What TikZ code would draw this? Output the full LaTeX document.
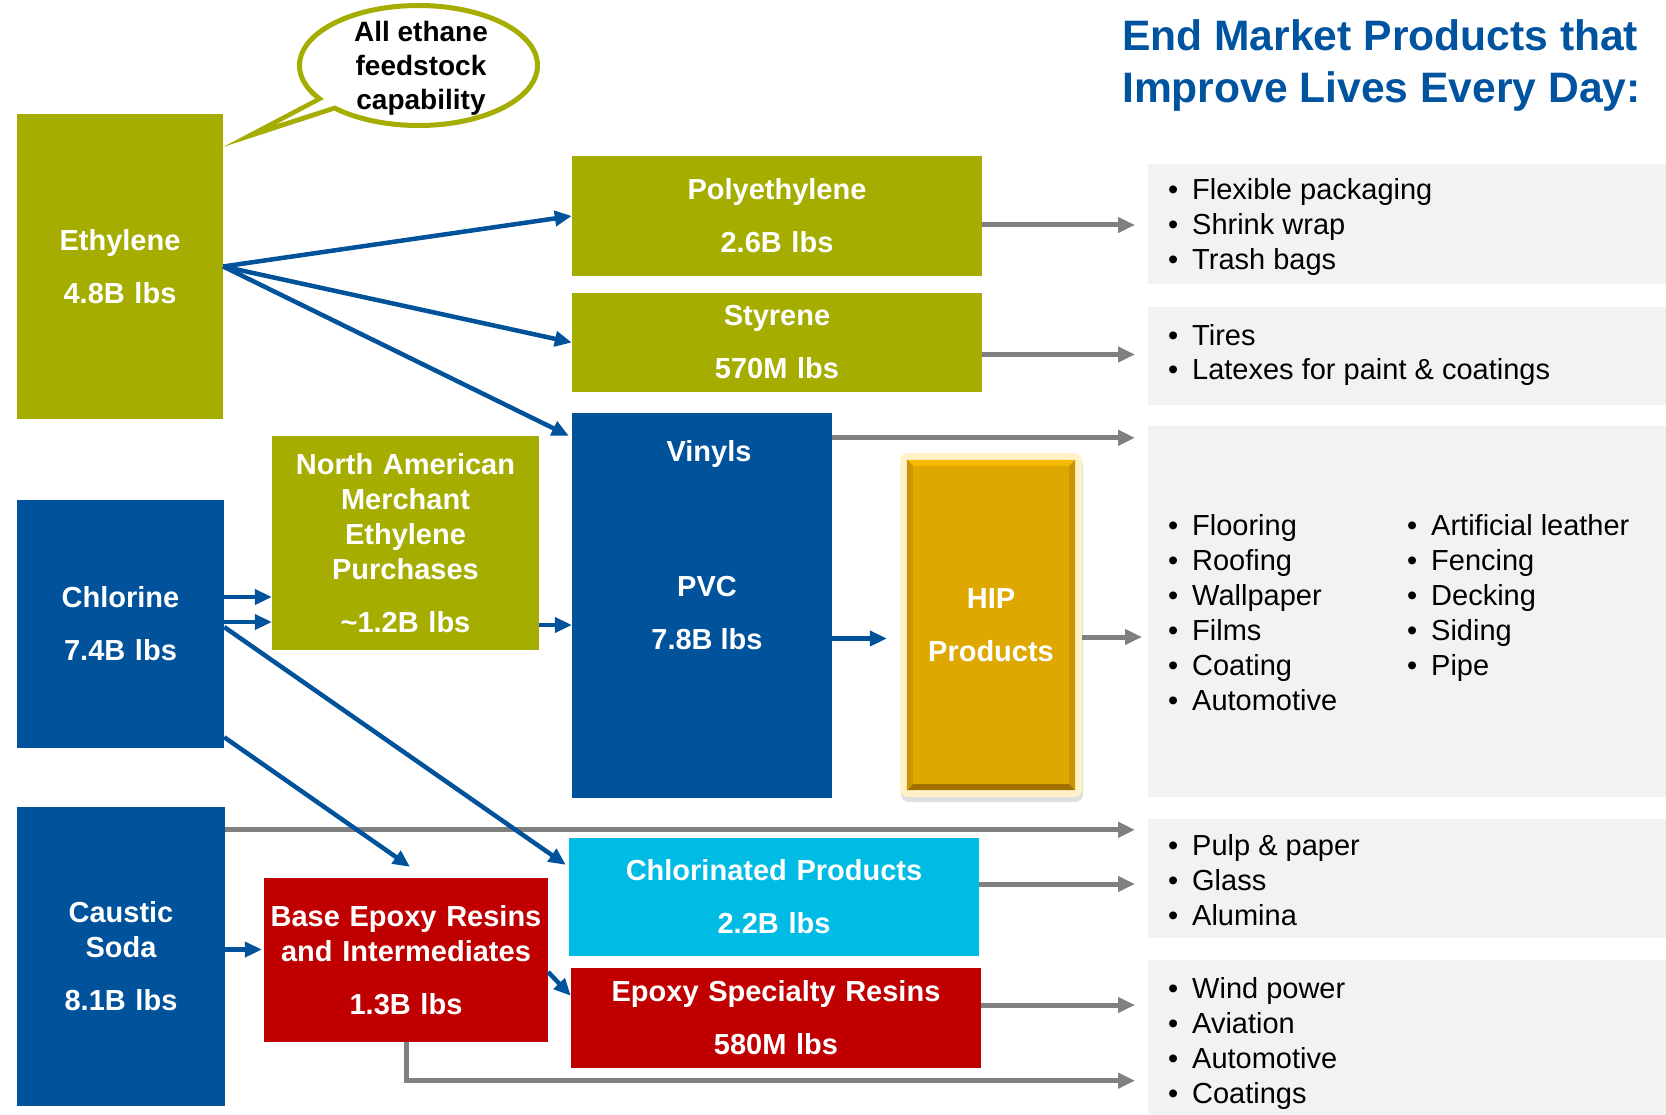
\documentclass[tikz,border=0pt]{standalone}
\usepackage{fontspec}
\setmainfont{Liberation Sans}
\usetikzlibrary{arrows.meta,shadows}

\definecolor{boxgreen}{HTML}{A5AD00}
\definecolor{boxblue}{HTML}{00529B}
\definecolor{boxred}{HTML}{C00000}
\definecolor{boxcyan}{HTML}{00BCE4}
\definecolor{boxgold}{HTML}{DFA800}
\definecolor{hiplight}{HTML}{F6BA00}
\definecolor{hipside}{HTML}{C99500}
\definecolor{hipdark}{HTML}{9F7000}
\definecolor{glow}{HTML}{FFF1C8}
\definecolor{arrowgray}{HTML}{808080}
\definecolor{panelgray}{HTML}{F2F2F2}
\definecolor{titleblue}{HTML}{00539F}

\tikzstyle{box}=[inner sep=0pt, align=center, text=white, font=\bfseries\fontsize{29}{35}\selectfont]
\tikzstyle{panel}=[fill=panelgray, inner sep=0pt, anchor=north west]
\tikzstyle{item}=[anchor=base west, inner sep=0pt, font=\fontsize{29}{35}\selectfont]
\tikzstyle{title}=[anchor=base west, inner sep=0pt, text=titleblue, font=\bfseries\fontsize{42.6}{50}\selectfont]
\tikzstyle{bluearr}=[draw=boxblue, line width=4.5pt, -{Triangle[length=17pt,width=15pt]}]
\tikzstyle{grayarr}=[draw=arrowgray, line width=5pt, -{Triangle[length=17pt,width=15pt]}, shorten >=13pt]

\newcommand{\bul}{\llap{\textbullet\hspace{14pt}}}

\begin{document}
\begin{tikzpicture}[x=1pt, y=-1pt]
\useasboundingbox (0,0) rectangle (1666,1115);
\fill[white] (0,0) rectangle (1666,1115);

% feedstocks
\node[box, fill=boxgreen, text width=206pt, minimum height=305pt] (eth) at (120,266.5) {Ethylene\\[18pt]4.8B lbs};
\node[box, fill=boxblue, text width=207pt, minimum height=248pt] (chl) at (120.5,624) {Chlorine\\[18pt]7.4B lbs};
\node[box, fill=boxblue, text width=208pt, minimum height=299pt] (soda) at (121,956.5) {Caustic\\Soda\\[18pt]8.1B lbs};
\node[box, fill=boxgreen, text width=267pt, minimum height=214pt] (na) at (405.5,543) {North American\\Merchant\\Ethylene\\Purchases\\[18pt]\textasciitilde1.2B lbs};

% derivatives
\node[box, fill=boxgreen, text width=410pt, minimum height=120pt] (poly) at (777,216) {Polyethylene\\[18pt]2.6B lbs};
\node[box, fill=boxgreen, text width=410pt, minimum height=99pt] (sty) at (777,342.5) {Styrene\\[18pt]570M lbs};
\node[box, fill=boxblue, text width=260pt, minimum height=385pt] (vin) at (702,605.5) {};
\node[box] (vinlbl) at (709,454) {Vinyls};
\node[box] (pvc) at (707,613) {PVC\\[18pt]7.8B lbs};
\node[box, fill=boxcyan, text width=410pt, minimum height=118pt] (chp) at (774,897) {Chlorinated Products\\[18pt]2.2B lbs};
\node[box, fill=boxred, text width=284pt, minimum height=164pt] (base) at (406,960) {Base Epoxy Resins\\and Intermediates\\[18pt]1.3B lbs};
\node[box, fill=boxred, text width=410pt, minimum height=100pt] (eps) at (776,1018) {Epoxy Specialty Resins\\[18pt]580M lbs};

% HIP block with glow and bevel
\node[fill=glow, rounded corners=8pt, minimum width=182pt, minimum height=344pt,
      drop shadow={opacity=0.25, shadow xshift=1pt, shadow yshift=-5pt}] (hipglow) at (991,625) {};
\node[box, fill=boxgold, text width=168pt, minimum height=330pt] (hip) at (991,625) {HIP\\[18pt]Products};
\fill[hiplight] (hip.north west) -- (hip.north east) -- ([shift={(-6pt,-6pt)}]hip.north east) -- ([shift={(6pt,-6pt)}]hip.north west) -- cycle;
\fill[hipdark] (hip.south west) -- (hip.south east) -- ([shift={(-6pt,6pt)}]hip.south east) -- ([shift={(6pt,6pt)}]hip.south west) -- cycle;
\fill[hipside] (hip.north west) -- ([shift={(6pt,-6pt)}]hip.north west) -- ([shift={(6pt,6pt)}]hip.south west) -- (hip.south west) -- cycle;
\fill[hipside] (hip.north east) -- ([shift={(-6pt,-6pt)}]hip.north east) -- ([shift={(-6pt,6pt)}]hip.south east) -- (hip.south east) -- cycle;

% callout
\fill[boxgreen] (223,147) -- (342,84.5) -- (373,98) -- cycle;
\draw[boxgreen, fill=white, line width=5pt] (418.5,65.5) ellipse [x radius=119, y radius=60];
\fill[white] (277,124) -- (349,86) -- (383,90) -- cycle;
\node[align=center, inner sep=0pt, font=\bfseries\fontsize{28}{34}\selectfont] (callout) at (421,68) {All ethane\\feedstock\\capability};

% end markets
\node[title] (title1) at (1122,51) {End Market Products that};
\node[title] (title2) at (1122,103) {Improve Lives Every Day:};
\node[panel, minimum width=518pt, minimum height=120pt] (p1) at (1148,164) {};
\node[panel, minimum width=518pt, minimum height=98pt] (p2) at (1148,307) {};
\node[panel, minimum width=518pt, minimum height=371pt] (p3) at (1148,426) {};
\node[panel, minimum width=518pt, minimum height=119pt] (p4) at (1148,819) {};
\node[panel, minimum width=518pt, minimum height=155pt] (p5) at (1148,960) {};

\foreach \t [count=\i from 0] in {Flexible packaging, Shrink wrap, Trash bags}
  \node[item] (pe\i) at (1192,200+35*\i) {\bul\t};
\foreach \t [count=\i from 0] in {Tires, Latexes for paint \& coatings}
  \node[item] (st\i) at (1192,345+35*\i) {\bul\t};
\foreach \t [count=\i from 0] in {Flooring, Roofing, Wallpaper, Films, Coating, Automotive}
  \node[item] (va\i) at (1192,535+35*\i) {\bul\t};
\foreach \t [count=\i from 0] in {Artificial leather, Fencing, Decking, Siding, Pipe}
  \node[item] (vb\i) at (1431,535+35*\i) {\bul\t};
\foreach \t [count=\i from 0] in {Pulp \& paper, Glass, Alumina}
  \node[item] (cp\i) at (1192,855+35*\i) {\bul\t};
\foreach \t [count=\i from 0] in {Wind power, Aviation, Automotive, Coatings}
  \node[item] (ep\i) at (1192,998+35*\i) {\bul\t};

% flows to end markets
\draw[grayarr] ([yshift=-9pt]poly.east) -- ([yshift=-9pt]poly.east -| p1.west);
\draw[grayarr] ([yshift=-12pt]sty.east) -- ([yshift=-12pt]sty.east -| p2.west);
\draw[grayarr] ([yshift=-25pt]vin.north east) -- ([yshift=-25pt]vin.north east -| p3.west);
\draw[grayarr, shorten >=6pt] ([yshift=-12pt]hipglow.east) -- ([yshift=-12pt]hipglow.east -| p3.west);
\draw[grayarr] ([yshift=-23pt]soda.north east) -- ([yshift=-23pt]soda.north east -| p4.west);
\draw[grayarr] ([yshift=13pt]chp.east) -- ([yshift=13pt]chp.east -| p4.west);
\draw[grayarr] ([yshift=13pt]eps.east) -- ([yshift=13pt]eps.east -| p5.west);
\draw[grayarr] (base.south) |- ([yshift=-43pt]p5.west);

% feedstock flows
\draw[bluearr] (eth.east) -- (poly.west);
\draw[bluearr] (eth.east) -- (sty.west);
\draw[bluearr] (eth.east) -- ([shift={(-3pt,-23pt)}]vin.north west);
\draw[bluearr] ([yshift=27pt]chl.east) -- ([yshift=27pt]chl.east -| na.west);
\draw[bluearr] ([yshift=2pt]chl.east) -- ([yshift=2pt]chl.east -| na.west);
\draw[bluearr] ([yshift=-82pt]na.east) -- ([yshift=-82pt]na.east -| vin.west);
\draw[bluearr, shorten >=13pt] ([yshift=-33pt]vin.east) -- ([yshift=-33pt]vin.east -| hipglow.west);
\draw[bluearr] ([yshift=-3pt]chl.east) -- ([shift={(-3pt,-27pt)}]chp.north west);
\draw[bluearr] ([yshift=11pt]chl.south east) -- ([shift={(4pt,11pt)}]base.north);
\draw[bluearr, shorten >=2pt] ([yshift=7pt]soda.east) -- ([yshift=7pt]soda.east -| base.west);
\draw[bluearr] ([yshift=-12pt]base.east) -- ([yshift=-28pt]eps.north west);
\end{tikzpicture}
\end{document}
